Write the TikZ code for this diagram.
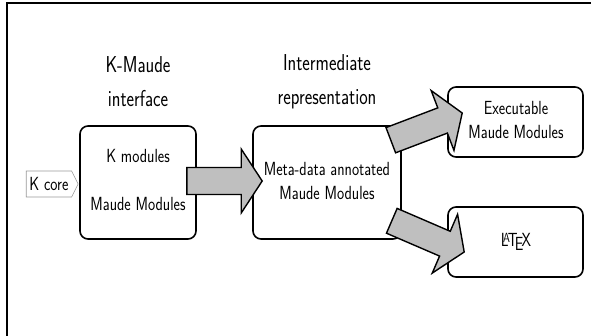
\documentclass[tikz,border=0pt]{standalone}
\usepackage{tikz}
\usetikzlibrary{calc}
\usetikzlibrary{shapes.symbols}
\tikzset{
    modbox/.style={draw=black, line width=1.6pt, rounded corners=8pt, inner sep=0pt},
    boxtext/.style={font=\sffamily\fontsize{19}{24}\selectfont, align=center, xscale=.8},
    headtext/.style={font=\sffamily\fontsize{23}{34}\selectfont, align=center, xscale=.78},
    fatarrow/.style={draw=black, fill=gray!50, line width=1.4pt, line join=miter,
        to path={($(\tikztostart)!13.5pt!90:(\tikztotarget)$)
            -- ($(\tikztotarget)!21pt!(\tikztostart)!13.5pt!90:(\tikztotarget)$)
            -- ($(\tikztotarget)!21pt!(\tikztostart)!32pt!90:(\tikztotarget)$)
            -- (\tikztotarget)
            -- ($(\tikztotarget)!21pt!(\tikztostart)!32pt!-90:(\tikztotarget)$)
            -- ($(\tikztotarget)!21pt!(\tikztostart)!13.5pt!-90:(\tikztotarget)$)
            -- ($(\tikztostart)!13.5pt!-90:(\tikztotarget)$) -- cycle}}
}

\begin{document}
\begin{tikzpicture}[x=1pt, y=-1pt]
    \useasboundingbox (0,0) rectangle (591,335);
    \draw[line width=2.5pt] (7,336) -- (7,3) -- (591,3);

    \node[headtext] (kmhead) at (138,82) {K-Maude\\interface};
    \node[headtext] (inhead) at (327,82) {Intermediate\\representation};

    \node[modbox, minimum width=116pt, minimum height=113pt] (kmaude) at (138,182.5) {};
    \node[modbox, minimum width=148pt, minimum height=113pt] (inter) at (327,182.5) {};
    \node[modbox, minimum width=135pt, minimum height=70pt] (exec) at (515.5,122) {};
    \node[modbox, minimum width=135pt, minimum height=70pt] (latex) at (515.5,242) {};

    \node[boxtext] (kmod) at (138,156) {K modules};
    \node[boxtext] (mmod) at (138,204) {Maude Modules};
    \node[boxtext] (meta) at (327,181) {Meta-data annotated\\Maude Modules};
    \node[boxtext] (emod) at (516,120) {Executable\\Maude Modules};
    \node[boxtext] (ltx) at (516,242) {\LaTeX};

    \node[shape=signal, signal to=east, signal pointer angle=116, draw=gray!80, line width=.6pt,
        fill=white, anchor=west, minimum width=62pt, minimum height=26pt, inner xsep=4pt,
        boxtext] (kcore) at (26,184) {K core};

    % arrows
    \coordinate (a1s) at ($(kmaude.east)+(-10,-1.5)$);
    \coordinate (a1e) at ($(inter.west)+(10,-1.5)$);
    \coordinate (a2s) at ($(inter.north east)+(-11,15)$);
    \coordinate (a2e) at ($(exec.west)+(15,-9)$);
    \coordinate (a3s) at ($(inter.south east)+(-10,-19)$);
    \coordinate (a3e) at ($(latex.west)+(17,10)$);
    \draw[fatarrow] (a1s) to (a1e);
    \draw[fatarrow] (a2s) to (a2e);
    \draw[fatarrow] (a3s) to (a3e);
\end{tikzpicture}
\end{document}
